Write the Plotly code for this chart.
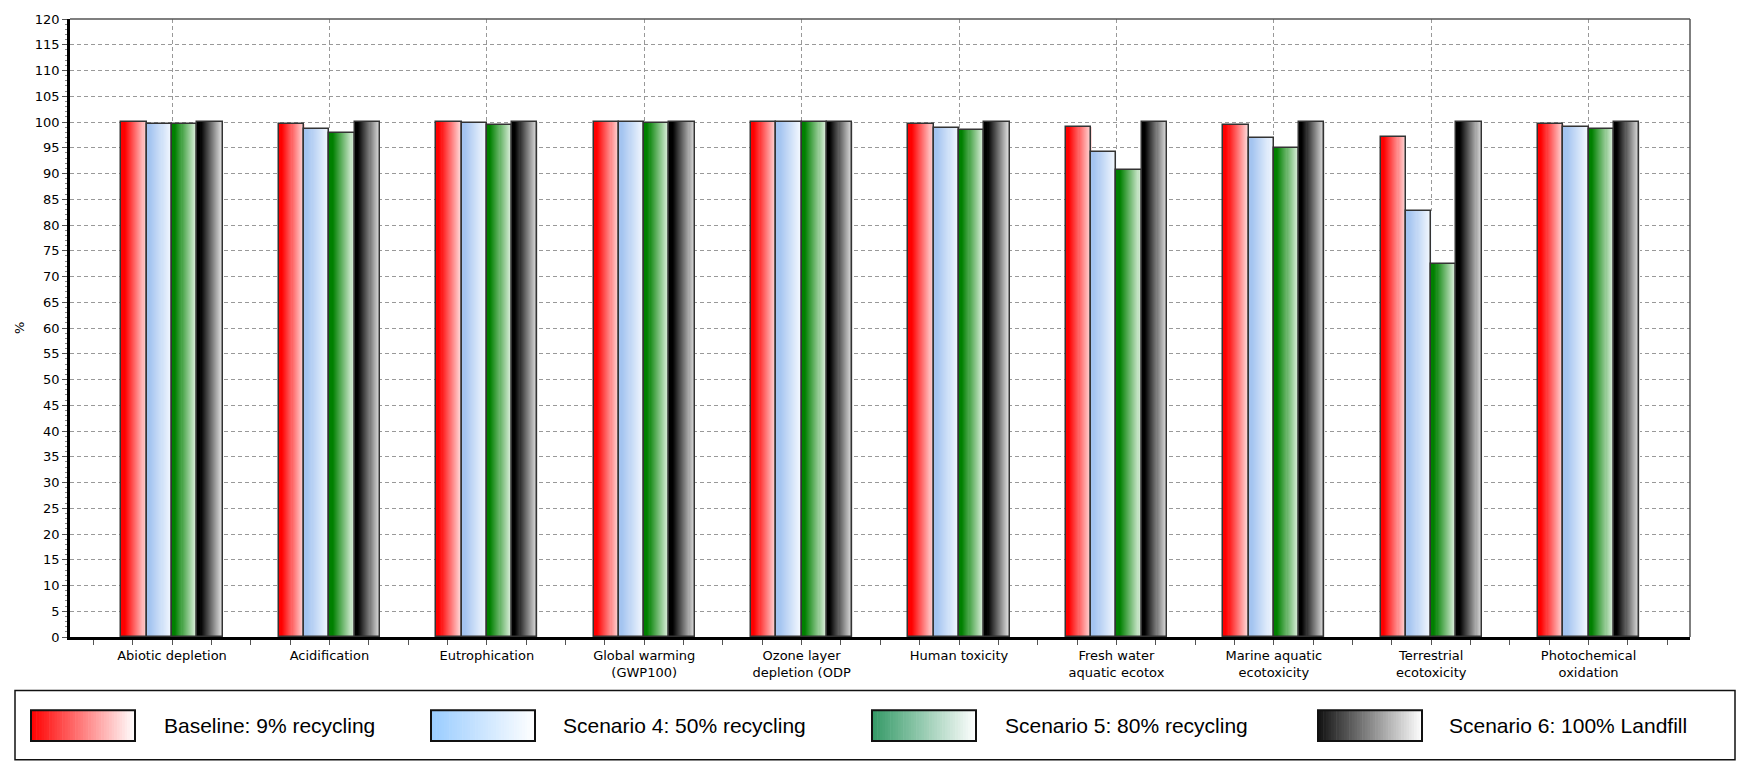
import plotly.graph_objects as go

categories = ["Abiotic depletion", "Acidification", "Eutrophication",
              "Global warming<br>(GWP100)", "Ozone layer<br>depletion (ODP",
              "Human toxicity", "Fresh water<br>aquatic ecotox",
              "Marine aquatic<br>ecotoxicity", "Terrestrial<br>ecotoxicity",
              "Photochemical<br>oxidation"]

series_names = ["Baseline: 9% recycling", "Scenario 4: 50% recycling",
                "Scenario 5: 80% recycling", "Scenario 6: 100% Landfill"]

baseline = [100.0, 99.7, 100.0, 100.0, 100.0, 99.7, 99.0, 99.4, 97.0, 99.7]
scenario4 = [99.7, 98.6, 99.8, 100.0, 100.0, 98.9, 94.1, 96.8, 82.7, 99.1]
scenario5 = [99.7, 97.8, 99.5, 99.8, 100.0, 98.4, 90.6, 94.9, 72.4, 98.6]
scenario6 = [100.0, 100.0, 100.0, 100.0, 100.0, 100.0, 100.0, 100.0, 100.0, 100.0]

y_ticks = list(range(0, 121, 5))

values = [baseline, scenario4, scenario5, scenario6]
bar_grad = [((255, 0, 0), (255, 222, 222)),
            ((164, 196, 240), (246, 250, 255)),
            ((0, 128, 0), (232, 245, 232)),
            ((0, 0, 0), (228, 228, 228))]
leg_grad = [((255, 0, 0), (255, 255, 255)),
            ((153, 204, 255), (255, 255, 255)),
            ((51, 153, 102), (255, 255, 255)),
            ((17, 17, 17), (255, 255, 255))]


def mix(c0, c1, t):
    return "rgb(%d,%d,%d)" % tuple(round(a + (b - a) * t) for a, b in zip(c0, c1))


x_idx = list(range(len(categories)))
W = 0.1607
start = -2 * W
K = 24

fig = go.Figure()
for i, (name, vals) in enumerate(zip(series_names, values)):
    off = start + i * W
    c0, c1 = bar_grad[i]
    for k in range(K):
        t = (k + 0.5) / K
        f = min(1.0, max(0.0, (t - 0.12) / 0.88))
        fig.add_trace(go.Bar(
            x=x_idx, y=vals, offset=off + k * W / K, width=W - k * W / K,
            marker=dict(color=mix(c0, c1, f), line=dict(width=0)),
            showlegend=False, hoverinfo="skip", name=name))
    fig.add_trace(go.Bar(
        x=x_idx, y=vals, offset=off, width=W, name=name,
        marker=dict(color="rgba(0,0,0,0)", line=dict(color="#333333", width=1.5)),
        showlegend=False))

L, R, T, B = 70, 1690, 13, 637
def px(x):
    return (x - L) / (R - L)
def py(y):
    return (B - y) / (B - T)

shapes = [
    dict(type="line", xref="paper", yref="paper", x0=0, x1=1, y0=1, y1=1,
         line=dict(color="#555555", width=1.5)),
    dict(type="line", xref="paper", yref="paper", x0=1, x1=1, y0=0, y1=1,
         line=dict(color="#555555", width=1.5)),
    dict(type="rect", xref="paper", yref="paper", x0=px(15), x1=px(1735),
         y0=py(691), y1=py(761), line=dict(color="#111111", width=1.5)),
]
annotations = []
sw_x = [31, 431, 872, 1318]
tx_x = [162, 561, 1003, 1447]
NS = 40
for i in range(4):
    c0, c1 = leg_grad[i]
    x0, x1 = sw_x[i], sw_x[i] + 104
    for k in range(NS):
        a = x0 + (x1 - x0) * k / NS
        b = x0 + (x1 - x0) * (k + 1) / NS + 0.6
        t = (k + 0.5) / NS
        shapes.append(dict(type="rect", xref="paper", yref="paper",
                           x0=px(a), x1=px(min(b, x1)), y0=py(711), y1=py(742),
                           fillcolor=mix(c0, c1, t), line=dict(width=0)))
    shapes.append(dict(type="rect", xref="paper", yref="paper",
                       x0=px(x0), x1=px(x1), y0=py(711), y1=py(742),
                       line=dict(color="#111111", width=2)))
    annotations.append(dict(xref="paper", yref="paper", x=px(tx_x[i]), y=py(726.5),
                            xanchor="left", yanchor="middle", showarrow=False,
                            text=series_names[i],
                            font=dict(family="Liberation Sans, Arial", size=21, color="#000")))

annotations.append(dict(xref="paper", yref="paper", x=px(19), y=0.5, textangle=-90,
                        showarrow=False, text="%", xanchor="center", yanchor="middle",
                        font=dict(family="DejaVu Sans", size=13, color="#000")))

fig.update_layout(
    width=1742, height=763,
    margin=dict(l=L, r=1742 - R, t=T, b=763 - B),
    paper_bgcolor="white", plot_bgcolor="white",
    barmode="overlay", bargap=0,
    showlegend=False,
    shapes=shapes, annotations=annotations,
    font=dict(family="DejaVu Sans", size=13, color="#000"),
    xaxis=dict(
        range=[(L - 172) / 157.4, (R - 172) / 157.4],
        tickmode="array", tickvals=x_idx, ticktext=categories,
        tickfont=dict(family="DejaVu Sans", size=13, color="#000"),
        ticks="outside", ticklen=5, tickcolor="#555", tickwidth=1,
        showline=True, linecolor="#000", linewidth=2.5,
        showgrid=True, gridcolor="#999999", griddash="4px,3px", gridwidth=1,
        zeroline=False, tickangle=0,
        minor=dict(dtick=0.25, tick0=0, ticks="outside", ticklen=5,
                   tickcolor="#555", showgrid=False),
    ),
    yaxis=dict(
        range=[0, 120], tickmode="array", tickvals=y_ticks,
        tickfont=dict(family="DejaVu Sans", size=13, color="#000"),
        ticks="outside", ticklen=5, tickcolor="#555", tickwidth=1,
        showline=True, linecolor="#000", linewidth=2.5,
        showgrid=True, gridcolor="#999999", griddash="4px,3px", gridwidth=1,
        zeroline=False,
        minor=dict(dtick=1, tick0=0, ticks="outside", ticklen=2,
                   tickcolor="#888", showgrid=False),
    ),
)

fig.write_html("out.html", config={"displayModeBar": False},
               post_script="document.body.style.margin='0';document.body.style.overflow='hidden';")
